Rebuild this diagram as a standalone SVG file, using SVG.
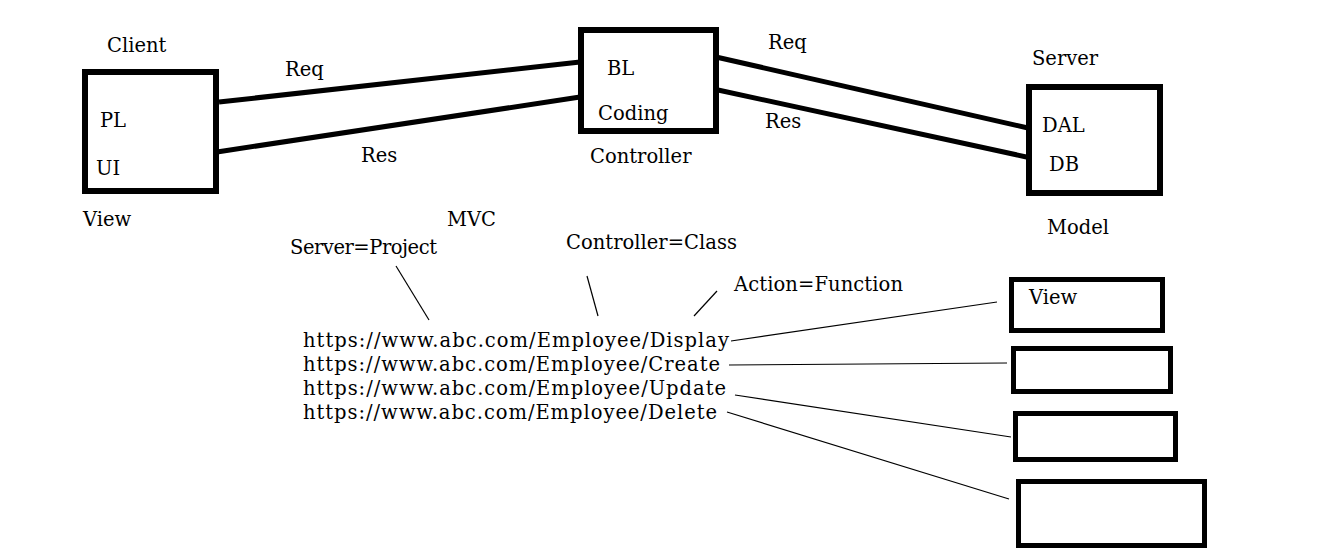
<svg xmlns="http://www.w3.org/2000/svg" width="1320" height="559" viewBox="0 0 1320 559">
<style>
text{font-family:"DejaVu Serif","Liberation Serif",serif;font-size:19.5px;fill:#000}
.box{fill:#fff;stroke:#000;stroke-width:6}
.sbox{fill:#fff;stroke:#000;stroke-width:5}
.thick{stroke:#000;stroke-width:5;fill:none}
.thin{stroke:#000;stroke-width:1.2;fill:none}
</style>
<rect width="1320" height="559" fill="#fff"/>
<g id="connectors">
<line class="thick" x1="219" y1="102" x2="580" y2="62"/>
<line class="thick" x1="217" y1="152" x2="580" y2="97"/>
<line class="thick" x1="716" y1="57" x2="1028" y2="128"/>
<line class="thick" x1="718" y1="90" x2="1031" y2="158"/>
<line class="thin" x1="396" y1="266" x2="429" y2="320"/>
<line class="thin" x1="587" y1="276" x2="598" y2="316"/>
<line class="thin" x1="694" y1="316" x2="717" y2="291"/>
<line class="thin" x1="731" y1="341" x2="997" y2="302"/>
<line class="thin" x1="729" y1="365" x2="1007" y2="363"/>
<line class="thin" x1="735" y1="395" x2="1011" y2="437"/>
<line class="thin" x1="727" y1="412" x2="1009" y2="499"/>
<text x="285" y="76">Req</text>
<text x="361" y="162">Res</text>
<text x="768" y="49">Req</text>
<text x="765" y="128">Res</text>
</g>
<g id="client">
<rect class="box" x="85" y="72" width="131" height="119"/>
<text x="107" y="52">Client</text>
<text x="100" y="127">PL</text>
<text x="96" y="175">UI</text>
<text x="83" y="226">View</text>
</g>
<g id="controller">
<rect class="box" x="581" y="30" width="135" height="101"/>
<text x="607" y="75">BL</text>
<text x="598" y="120">Coding</text>
<text x="590" y="163">Controller</text>
</g>
<g id="server">
<rect class="box" x="1029" y="87" width="131" height="106"/>
<text x="1032" y="65">Server</text>
<text x="1042" y="132">DAL</text>
<text x="1049" y="171">DB</text>
<text x="1047" y="234">Model</text>
</g>
<g id="labels">
<text x="447" y="226">MVC</text>
<text x="290" y="254" textLength="147">Server=Project</text>
<text x="566" y="249" textLength="171">Controller=Class</text>
<text x="734" y="291" textLength="169">Action=Function</text>
</g>
<g id="urls">
<text x="303" y="347" textLength="426">https://www.abc.com/Employee/Display</text>
<text x="303" y="371" textLength="417">https://www.abc.com/Employee/Create</text>
<text x="303" y="395" textLength="423">https://www.abc.com/Employee/Update</text>
<text x="303" y="419" textLength="414">https://www.abc.com/Employee/Delete</text>
</g>
<g id="view-box">
<rect class="sbox" x="1011.5" y="279.5" width="151" height="51"/>
<text x="1029" y="304">View</text>
</g>
<g id="box2"><rect class="sbox" x="1013.5" y="348.5" width="157" height="43"/></g>
<g id="box3"><rect class="sbox" x="1015.5" y="413.5" width="160" height="46"/></g>
<g id="box4"><rect class="sbox" x="1018.5" y="481.5" width="186" height="64"/></g>
</svg>
